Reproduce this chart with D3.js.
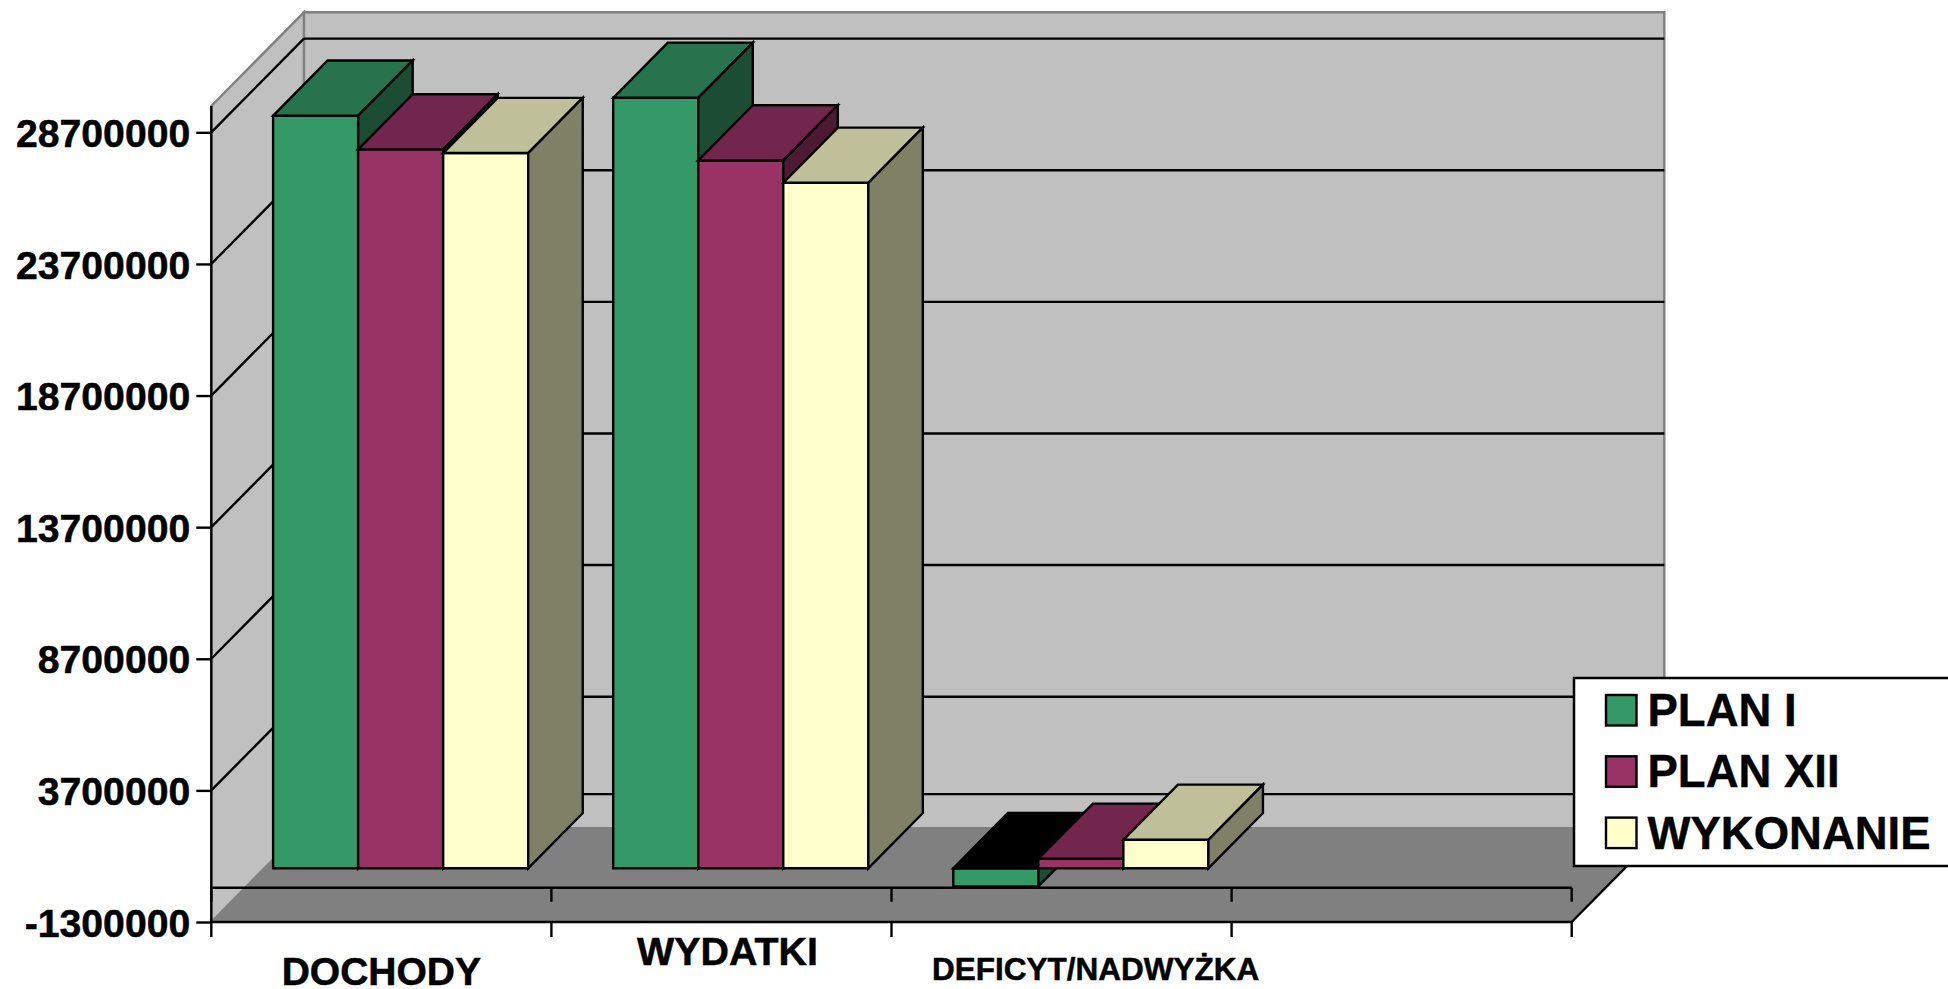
<!DOCTYPE html>
<html lang="pl">
<head>
<meta charset="utf-8">
<title>Budzet</title>
<script src="https://cdnjs.cloudflare.com/ajax/libs/d3/7.8.5/d3.min.js"></script>
<style>
    html, body { margin: 0; padding: 0; background: #fff; overflow: hidden; }
    svg { display: block; }
    text { font-family: "Liberation Sans", Arial, sans-serif; font-weight: bold; fill: #000; }
</style>
</head>
<body>
<svg id="chart" width="1948" height="989"></svg>
<script>
const categories = ["DOCHODY", "WYDATKI", "DEFICYT/NADWYŻKA", ""];
const seriesNames = ["PLAN I", "PLAN XII", "WYKONANIE"];
const planI = [28590000, 29270000, -690000, null];
const planXII = [27310000, 26890000, 360000, null];
const wykonanie = [27170000, 26040000, 1080000, null];
const tickValues = [-1300000, 3700000, 8700000, 13700000, 18700000, 23700000, 28700000];
const axisMin = -1300000;
const axisMax = 29700000;

const seriesValues = [planI, planXII, wykonanie];
const frontColors = ["#339966", "#993366", "#ffffcc"];
const topColors = ["#26734d", "#73264d", "#bfbf99"];
const sideColors = ["#1a4d33", "#4d1933", "#808066"];

// Category labels are staggered and have different sizes in the source chart
const labelDx = [0, 6, 34, 0];
const labelBaseline = [985, 965, 980, 0];
const labelSize = [39, 39.4, 31.5, 0];

const plot = {left: 211.3, right: 1571.7, top: 106, bottom: 922, depthX: 92.6, depthY: 93.7};
const barDepth = [0.2085, 0.7975];
const lineWidth = 2.4;

const svg = d3.select("#chart");

const x = d3.scaleBand()
    .domain(d3.range(categories.length))
    .range([plot.left, plot.right]);

const y = d3.scaleLinear()
    .domain([axisMin, axisMax])
    .range([plot.bottom, plot.top]);

// Place inside a group: one bar width of gap, split evenly on both sides
const barX = d3.scaleBand()
    .domain(d3.range(seriesNames.length))
    .range([0, x.bandwidth()])
    .paddingOuter(0.5)
    .paddingInner(0);

/**
 * Projects a (screen x, screen y, depth) triple to the oblique view.
 */
function project(px, py, depth)
{
    return [px + depth * plot.depthX, py - depth * plot.depthY];
}

function polygon(parent, points, fill, stroke, width)
{
    return parent.append("polygon")
        .attr("points", points.map(p => p.join(",")).join(" "))
        .attr("fill", fill)
        .attr("stroke", stroke)
        .attr("stroke-width", width)
        .attr("stroke-linejoin", "miter");
}

function line(parent, p0, p1, stroke, width)
{
    return parent.append("line")
        .attr("x1", p0[0]).attr("y1", p0[1])
        .attr("x2", p1[0]).attr("y2", p1[1])
        .attr("stroke", stroke)
        .attr("stroke-width", width);
}

// Walls and floor
const walls = svg.append("g").attr("class", "walls");
const yMin = y(axisMin);
const yMax = y(axisMax);

polygon(walls, [
    project(plot.left, yMax, 1), project(plot.right, yMax, 1),
    project(plot.right, yMin, 1), project(plot.left, yMin, 1)
], "#c0c0c0", "#808080", 2.4);

polygon(walls, [
    project(plot.left, yMax, 0), project(plot.left, yMax, 1),
    project(plot.left, yMin, 1), project(plot.left, yMin, 0)
], "#c0c0c0", "#808080", 2.4);

polygon(walls, [
    project(plot.left, yMin, 0), project(plot.left, yMin, 1),
    project(plot.right, yMin, 1), project(plot.right, yMin, 0)
], "#808080", "#808080", 1);

// Gridlines run across the back wall and along the left wall
const grid = svg.append("g").attr("class", "grid");

tickValues.slice(1).forEach(value => {
    line(grid, project(plot.left, y(value), 0), project(plot.left, y(value), 1), "#000", lineWidth);
    line(grid, project(plot.left, y(value), 1), project(plot.right, y(value), 1), "#000", lineWidth);
});

// The category axis crosses at zero, so it shows on the back wall too
line(grid, project(plot.left, y(0), 1), project(plot.right, y(0), 1), "#000", lineWidth);

// Front edges of the floor and the axes
const axes = svg.append("g").attr("class", "axes");

line(axes, [plot.left, y(axisMax)], [plot.left, y(axisMin)], "#000", lineWidth);
line(axes, [plot.left, y(0)], [plot.right, y(0)], "#000", lineWidth);
line(axes, [plot.left, y(axisMin)], [plot.right, y(axisMin)], "#000", lineWidth);
line(axes, [plot.right, y(axisMin)], project(plot.right, y(axisMin), 1), "#000", lineWidth);

d3.range(categories.length + 1).forEach(i => {
    let tickX = plot.left + i * x.step();

    line(axes, [tickX, y(0)], [tickX, y(0) + 14], "#000", lineWidth);
    line(axes, [tickX, y(axisMin)], [tickX, y(axisMin) + 15], "#000", lineWidth);
});

// Value axis
const yAxis = d3.axisLeft(y)
    .tickValues(tickValues)
    .tickFormat(d => String(d))
    .tickSize(15)
    .tickPadding(6);

svg.append("g")
    .attr("class", "y-axis")
    .attr("transform", `translate(${plot.left},0)`)
    .call(yAxis)
    .call(g => g.select(".domain").remove())
    .call(g => g.selectAll(".tick line").attr("stroke", "#000").attr("stroke-width", lineWidth))
    .call(g => g.selectAll(".tick text")
        .attr("dy", "0.36em")
        .style("font-family", "'Liberation Sans', Arial, sans-serif")
        .style("font-weight", "bold")
        .style("font-size", "39.2px")
        .style("stroke", "#000")
        .style("stroke-width", "0.5px")
        .attr("fill", "#000"));

// Bars, drawn left to right so that each one overlaps the side of the previous
const bars = svg.append("g").attr("class", "bars");

categories.forEach((category, c) => {
    seriesValues.forEach((values, s) => {
        let value = values[c];

        if (value === null) {
            return;
        }

        let x0 = x(c) + barX(s);
        let x1 = x0 + barX.bandwidth();
        let yTop = y(Math.max(value, 0));
        let yBase = y(Math.min(value, 0));
        let [near, far] = barDepth;

        let bar = bars.append("g");

        polygon(bar, [
            project(x0, yTop, near), project(x1, yTop, near),
            project(x1, yBase, near), project(x0, yBase, near)
        ], frontColors[s], "#000", lineWidth);

        // A bar below zero shows a black cap in the source chart
        polygon(bar, [
            project(x0, yTop, near), project(x0, yTop, far),
            project(x1, yTop, far), project(x1, yTop, near)
        ], value < 0 ? "#000" : topColors[s], "#000", lineWidth);

        polygon(bar, [
            project(x1, yTop, near), project(x1, yTop, far),
            project(x1, yBase, far), project(x1, yBase, near)
        ], sideColors[s], "#000", lineWidth);
    });
});

// Category labels
svg.append("g")
    .attr("class", "x-labels")
    .selectAll("text")
    .data(categories)
    .join("text")
    .attr("x", (d, i) => x(i) + x.bandwidth() / 2 + labelDx[i])
    .attr("y", (d, i) => labelBaseline[i])
    .attr("text-anchor", "middle")
    .style("font-size", (d, i) => labelSize[i] + "px")
    .style("stroke", "#000")
    .style("stroke-width", "0.5px")
    .text(d => d);

// Legend
const legend = svg.append("g")
    .attr("class", "legend")
    .attr("transform", "translate(1574,678)");

legend.append("rect")
    .attr("width", 420)
    .attr("height", 188)
    .attr("fill", "#fff")
    .attr("stroke", "#000")
    .attr("stroke-width", 2.5);

const legendRow = d3.scalePoint()
    .domain(seriesNames)
    .range([17, 139.6]);

const legendItem = legend.selectAll("g")
    .data(seriesNames)
    .join("g")
    .attr("transform", d => `translate(0,${legendRow(d)})`);

legendItem.append("rect")
    .attr("x", 32)
    .attr("width", 30.5)
    .attr("height", 30.5)
    .attr("fill", (d, i) => frontColors[i])
    .attr("stroke", "#000")
    .attr("stroke-width", 2.4);

legendItem.append("text")
    .attr("x", 73.5)
    .attr("y", 31)
    .style("font-size", "45.5px")
    .style("stroke", "#000")
    .style("stroke-width", "0.4px")
    .text(d => d);
</script>
</body>
</html>
